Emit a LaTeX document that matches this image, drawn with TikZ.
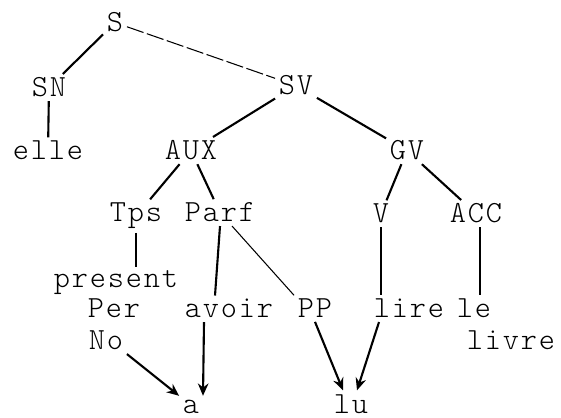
\documentclass[tikz,border=0pt]{standalone}
\usepackage{fontspec}
\newfontfamily\maquina{lmmonolt10-regular.otf}[LetterSpace=6]
\usetikzlibrary{arrows.meta,calc}

\tikzstyle{palabra}= [font=\maquina\fontsize{17.5}{20}\selectfont,inner sep=2pt,anchor=base]
\tikzstyle{rama}= [black,line width=1.2pt]
\tikzstyle{ramafina}= [black,line width=0.6pt]
\tikzstyle{flecha}= [black,line width=1.2pt,-{Stealth[length=7pt,width=6pt]}]

\begin{document}
\begin{tikzpicture}[x=0.02cm,y=-0.02cm]
		\useasboundingbox (0,0) rectangle (561,418);

		\node (s) at (115,32) [palabra] {S};

		\node (sn) at (49,97) [palabra] {SN};
		\node (sv) at (296,95) [palabra] {SV};

		\node (elle) at (48,160) [palabra] {elle};
		\node (aux) at (191,160) [palabra] {AUX};
		\node (gv) at (407,160) [palabra] {GV};

		\node (tps) at (136,222) [palabra] {Tps};
		\node (parf) at (220,222) [palabra] {Parf};
		\node (v) at (381,223) [palabra] {V};
		\node (acc) at (476,223) [palabra] {ACC};

		\node (present) at (116,288) [palabra] {present};
		\node (per) at (114,318) [palabra] {Per};
		\node (no) at (106,350) [palabra] {No};

		\node (avoir) at (229,318) [palabra] {avoir};
		\node (pp) at (315,318) [palabra] {PP};
		\node (lire) at (409,318) [palabra] {lire};
		\node (le) at (474,318) [palabra] {le};
		\node (livre) at (511,350) [palabra] {livre};

		\node (a) at (191,413) [palabra] {a};
		\node (lu) at (351,413) [palabra] {lu};

		\path[rama] (s) edge[] node {} (sn);
		\path[ramafina,dash pattern=on 10pt off 2pt] (s) edge[] node {} (sv);
		\path[rama] (sn) edge[] node {} (elle);
		\path[rama] (sv) edge[] node {} (aux);
		\path[rama] (sv) edge[] node {} (gv);

		\path[rama] (aux) edge[] node {} (tps);
		\path[rama] (aux) edge[] node {} (parf);
		\path[rama] (gv) edge[] node {} (v);
		\path[rama] (gv) edge[] node {} (acc);

		\path[rama] (tps.south) edge[] node {} (tps.south |- present.north);
		\path[rama] (parf.south) edge[] node {} ($(avoir.north)+(-14,0)$);
		\path[ramafina] (parf) edge[] node {} (pp.north west);
		\path[rama] (v.south) edge[] node {} (v.south |- lire.north);
		\path[rama] ($(acc.south)+(4,0)$) edge[] node {} ($(acc.south |- le.north)+(4,0)$);

		\path[flecha] (no.south east) edge[] node {} (a.north west);
		\path[flecha] ($(avoir.south)+(-25,0)$) edge[] node {} ($(a.north)+(12,0)$);
		\path[flecha] (pp.south) edge[] node {} ($(lu.north)+(-8,0)$);
		\path[flecha] ($(lire.south)+(-30,0)$) edge[] node {} ($(lu.north)+(6,0)$);

	\end{tikzpicture}
\end{document}
